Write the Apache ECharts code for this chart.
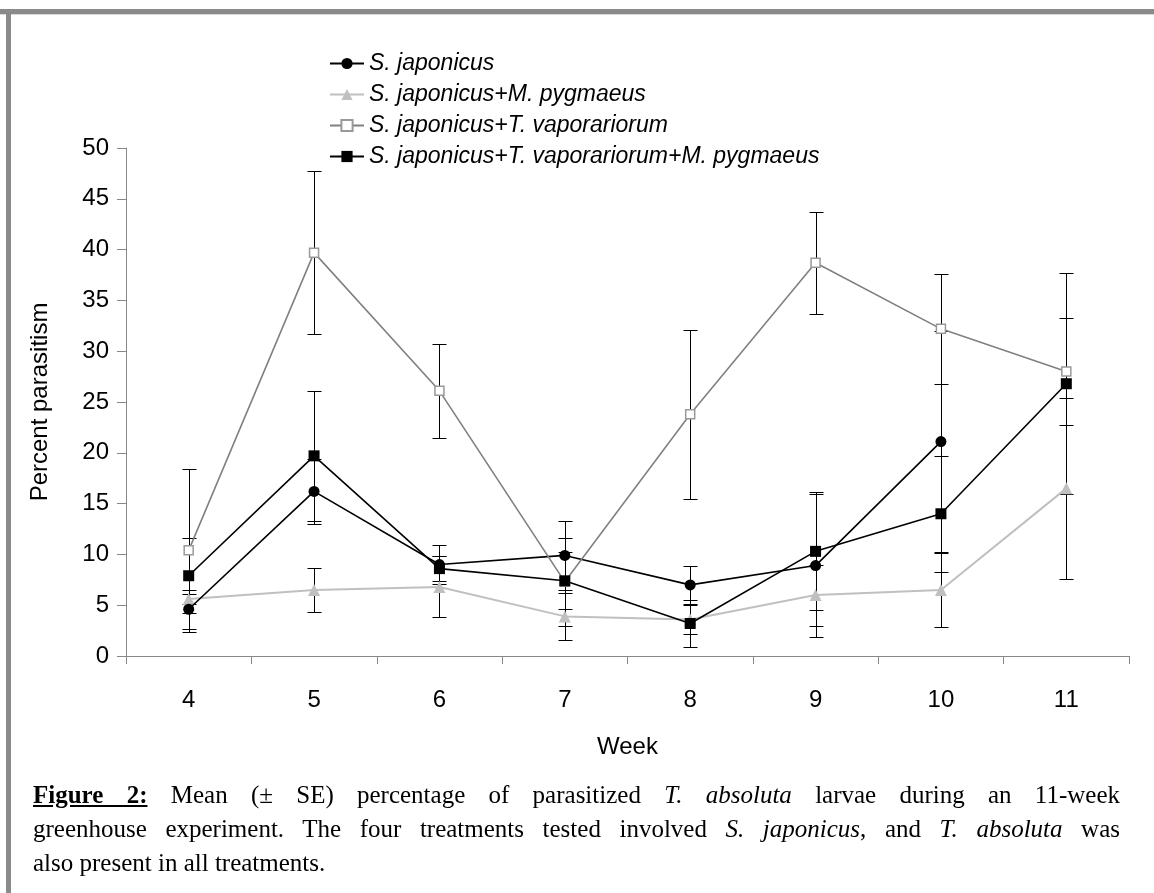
<!DOCTYPE html>
<html>
<head>
<meta charset="utf-8">
<script src="https://cdn.jsdelivr.net/npm/echarts@6/dist/echarts.min.js"></script>
<style>
  html, body { margin: 0; padding: 0; background: #fff; }
  #wrap { position: relative; width: 1154px; height: 893px; overflow: hidden; }
  #chart { position: absolute; left: 0; top: 0; width: 1154px; height: 893px; }
  .cap { position: absolute; left: 33px; width: 1087px; font-family: "Liberation Serif", "Times New Roman", serif; font-size: 25px; line-height: 34px; color: #000; white-space: nowrap; }
  .just { text-align: justify; text-align-last: justify; white-space: normal; }
  .cap b { text-decoration: underline; }
</style>
</head>
<body>
<div id="wrap">
  <div id="chart"></div>
  <div class="cap just" style="top:778px;"><b>Figure 2:</b> Mean (± SE) percentage of parasitized <i>T. absoluta</i> larvae during an 11-week</div>
  <div class="cap just" style="top:812px;">greenhouse experiment. The four treatments tested involved <i>S. japonicus</i>, and <i>T. absoluta</i> was</div>
  <div class="cap" style="top:846px;">also present in all treatments.</div>
</div>
<script>
const weeks = ['4', '5', '6', '7', '8', '9', '10', '11'];
const yTicks = [0, 5, 10, 15, 20, 25, 30, 35, 40, 45, 50];

const names = [
  'S. japonicus',
  'S. japonicus+M. pygmaeus',
  'S. japonicus+T. vaporariorum',
  'S. japonicus+T. vaporariorum+M. pygmaeus'
];

const sj       = [4.6, 16.2, 9.0, 9.9, 7.0, 8.9, 21.1, null];
const sjSE     = [1.9, 3.2, 1.9, 3.4, 1.9, 7.0, 10.9, null];
const sjMp     = [5.6, 6.5, 6.8, 3.9, 3.6, 6.0, 6.5, 16.5];
const sjMpSE   = [0.5, 2.2, 3.0, 2.3, 1.4, 3.0, 3.6, 8.9];
const sjTv     = [10.4, 39.7, 26.1, 7.3, 23.8, 38.7, 32.2, 28.0];
const sjTvSE   = [8.0, 8.0, 4.6, 4.3, 8.3, 5.0, 5.4, 5.3];
const sjTvMp   = [7.9, 19.7, 8.6, 7.4, 3.2, 10.3, 14.0, 26.8];
const sjTvMpSE = [3.7, 6.4, 1.2, 2.8, 2.3, 5.8, 5.7, 10.9];

const chart = echarts.init(document.getElementById('chart'), null, { renderer: 'canvas' });

function errData(mean, se) {
  const out = [];
  mean.forEach((m, i) => {
    if (m != null && se[i] != null) out.push([i, m - se[i], m + se[i]]);
  });
  return out;
}

function renderErr(params, api) {
  const x = api.value(0), lo = api.value(1), hi = api.value(2);
  const a = api.coord([x, lo]);
  const b = api.coord([x, hi]);
  const cx = Math.round(a[0]) + 0.5;
  const yl = Math.round(a[1]) + 0.5;
  const yh = Math.round(b[1]) + 0.5;
  const w = 7;
  const st = { stroke: '#000', lineWidth: 1 };
  return {
    type: 'group',
    children: [
      { type: 'line', shape: { x1: cx, y1: yh, x2: cx, y2: yl }, style: st },
      { type: 'line', shape: { x1: cx - w, y1: yh, x2: cx + w, y2: yh }, style: st },
      { type: 'line', shape: { x1: cx - w, y1: yl, x2: cx + w, y2: yl }, style: st }
    ]
  };
}

function errSeries(mean, se) {
  return {
    type: 'custom',
    renderItem: renderErr,
    data: errData(mean, se),
    encode: { x: 0, y: [1, 2] },
    z: 1,
    silent: true
  };
}

const FONT = '"Liberation Sans", Arial, sans-serif';

const option = {
  animation: false,
  backgroundColor: '#fff',
  grid: { left: 126, right: 25, top: 148, bottom: 237, containLabel: false },
  legend: {
    orient: 'vertical',
    left: 324,
    top: 47,
    itemWidth: 34,
    itemHeight: 14,
    itemGap: 8,
    data: names,
    textStyle: { fontFamily: FONT, fontStyle: 'italic', fontSize: 23, lineHeight: 23, color: '#000' }
  },
  xAxis: {
    type: 'category',
    data: weeks,
    boundaryGap: true,
    name: 'Week',
    nameLocation: 'middle',
    nameGap: 79,
    nameTextStyle: { fontFamily: FONT, fontSize: 24, color: '#000' },
    axisLine: { lineStyle: { color: '#888', width: 1 } },
    axisTick: { show: true, length: 8, lineStyle: { color: '#888' } },
    axisLabel: { margin: 32, fontFamily: FONT, fontSize: 24, color: '#000' },
    splitLine: { show: false }
  },
  yAxis: {
    type: 'value',
    min: 0,
    max: 50,
    interval: 5,
    name: 'Percent parasitism',
    nameLocation: 'middle',
    nameGap: 74,
    nameTextStyle: { fontFamily: FONT, fontSize: 24, color: '#000' },
    axisLine: { show: true, lineStyle: { color: '#888', width: 1 } },
    axisTick: { show: true, length: 9, lineStyle: { color: '#888' } },
    axisLabel: {
      margin: 17, fontFamily: FONT, fontSize: 24, color: '#000',
      formatter: v => (yTicks.indexOf(v) >= 0 ? String(v) : '')
    },
    splitLine: { show: false }
  },
  graphic: [
    { type: 'rect', shape: { x: 0, y: 9, width: 1154, height: 5 }, style: { fill: '#8a8a8a' }, silent: true },
    { type: 'rect', shape: { x: 0, y: 14, width: 1154, height: 1 }, style: { fill: '#d8d8d8' }, silent: true },
    { type: 'rect', shape: { x: 6, y: 9, width: 5, height: 884 }, style: { fill: '#8a8a8a' }, silent: true }
  ],
  series: [
    errSeries(sj, sjSE),
    errSeries(sjMp, sjMpSE),
    errSeries(sjTv, sjTvSE),
    errSeries(sjTvMp, sjTvMpSE),
    {
      name: names[0], type: 'line', data: sj, z: 3,
      symbol: 'circle', symbolSize: 11,
      lineStyle: { color: '#000', width: 1.6 },
      itemStyle: { color: '#000' }
    },
    {
      name: names[1], type: 'line', data: sjMp, z: 2,
      symbol: 'triangle', symbolSize: 12,
      lineStyle: { color: '#c0c0c0', width: 2 },
      itemStyle: { color: '#c0c0c0' }
    },
    {
      name: names[2], type: 'line', data: sjTv, z: 3,
      symbol: 'rect', symbolSize: 9,
      lineStyle: { color: '#808080', width: 1.6 },
      itemStyle: { color: '#fff', borderColor: '#999', borderWidth: 1.5 }
    },
    {
      name: names[3], type: 'line', data: sjTvMp, z: 4,
      symbol: 'rect', symbolSize: 11,
      lineStyle: { color: '#000', width: 1.6 },
      itemStyle: { color: '#000' }
    }
  ]
};

chart.setOption(option);
</script>
</body>
</html>
